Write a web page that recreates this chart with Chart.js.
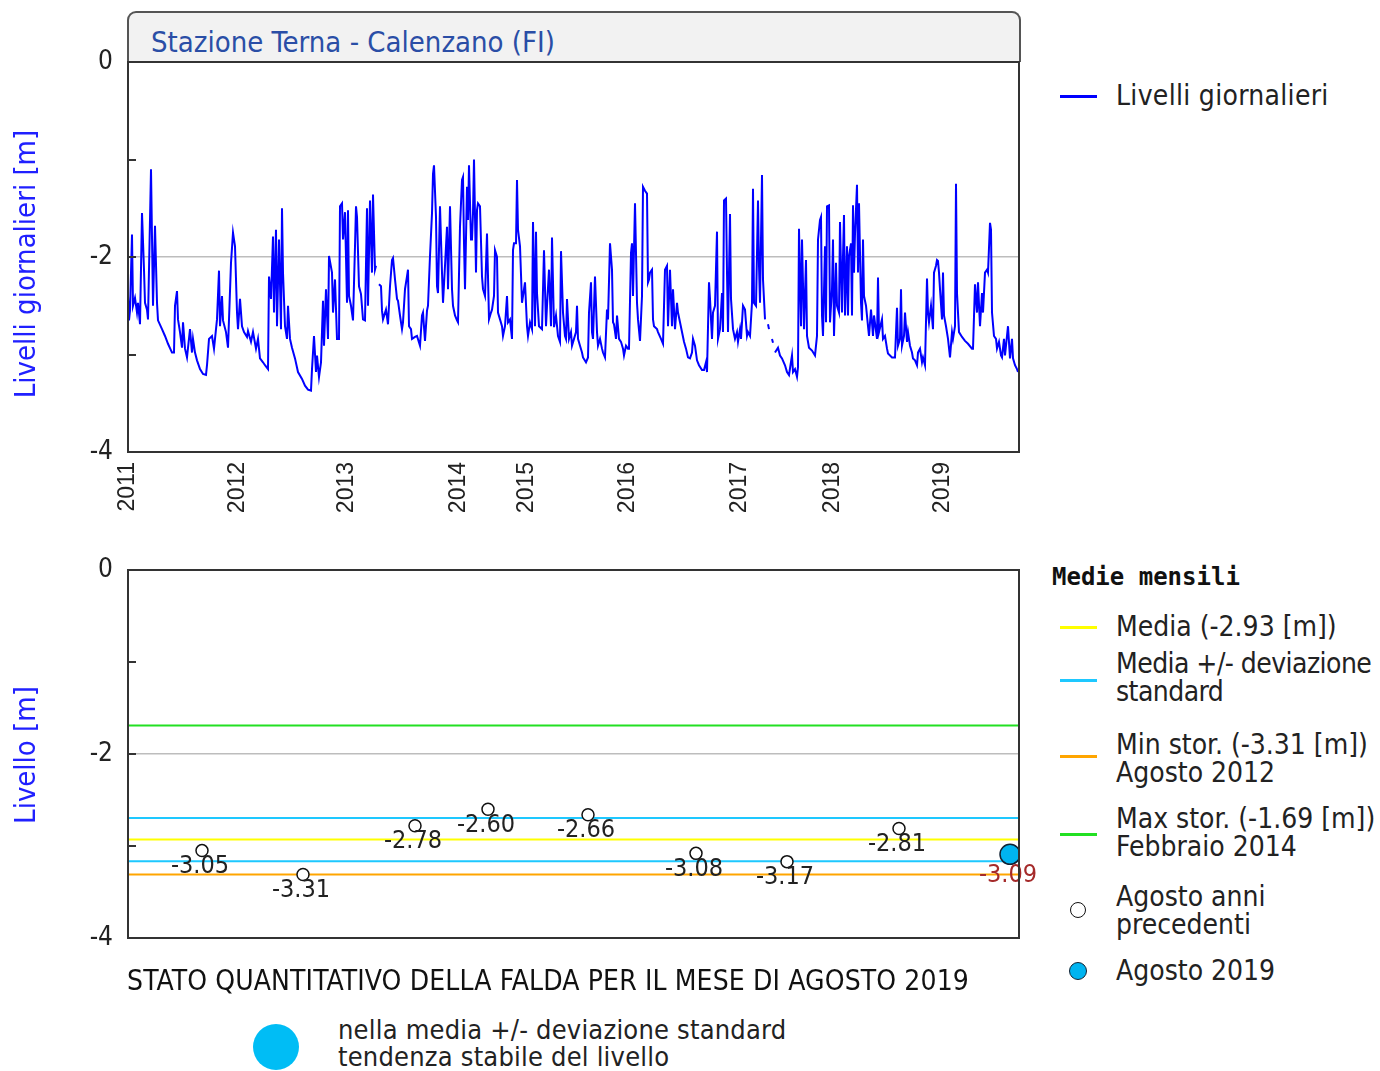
<!DOCTYPE html>
<html><head><meta charset="utf-8">
<script src="https://cdn.jsdelivr.net/npm/chart.js@4.4.0/dist/chart.umd.min.js"></script>
<style>
body{margin:0;background:#fff;}
#page{position:relative;width:1380px;height:1071px;overflow:hidden;font-family:'DejaVu Sans Condensed','DejaVu Sans',sans-serif;color:#222}
.t{position:absolute;white-space:nowrap}
.ytitle{position:absolute;transform:translate(-50%,-50%) rotate(-90deg);color:#2020ff;font-size:29px;line-height:32px;white-space:nowrap}
.leg{position:absolute;left:1116px;font-size:28px;line-height:28px;color:#222;white-space:nowrap}
.sw{position:absolute;left:1060px;width:37px;height:3px}
#titlebox{position:absolute;left:127px;top:11px;width:890px;height:49px;background:#f2f2f2;border:2px solid #555;border-bottom:none;border-radius:9px 9px 0 0}
#titlebox span{position:absolute;left:22px;top:14px;font-size:29px;line-height:30px;color:#2a4ea6}
</style></head>
<body><div id="page">
<div id="titlebox"><span>Stazione Terna - Calenzano (FI)</span></div>
<div style="position:absolute;left:0;top:0;width:1040px;height:530px"><canvas id="c1" width="1040" height="530"></canvas></div>
<div style="position:absolute;left:0;top:530px;width:1040px;height:450px"><canvas id="c2" width="1040" height="450"></canvas></div>
<div class="ytitle" style="left:25px;top:264px">Livelli giornalieri [m]</div>
<div class="ytitle" style="left:25px;top:755px">Livello [m]</div>

<div class="sw" style="top:95px;background:#0000ff"></div>
<div class="leg" style="top:82px;letter-spacing:0.3px">Livelli giornalieri</div>

<div class="t" style="left:1052px;top:563px;font-family:'DejaVu Sans Mono',monospace;font-weight:bold;font-size:24px;line-height:28px;color:#111">Medie mensili</div>
<div class="sw" style="top:626px;background:#ffff00"></div>
<div class="leg" style="top:613px">Media (-2.93 [m])</div>
<div class="sw" style="top:679px;background:#1ec8ff"></div>
<div class="leg" style="top:650px;letter-spacing:-0.55px">Media +/- deviazione<br>standard</div>
<div class="sw" style="top:755px;background:#ffa500"></div>
<div class="leg" style="top:731px">Min stor. (-3.31 [m])<br>Agosto 2012</div>
<div class="sw" style="top:833px;background:#22e022"></div>
<div class="leg" style="top:805px">Max stor. (-1.69 [m])<br>Febbraio 2014</div>
<div class="t" style="left:1070px;top:902px;width:14px;height:14px;border:1.5px solid #111;border-radius:50%;background:#fff"></div>
<div class="leg" style="top:883px">Agosto anni<br>precedenti</div>
<div class="t" style="left:1069px;top:962px;width:16px;height:16px;border:1.5px solid #123;border-radius:50%;background:#00b4f0"></div>
<div class="leg" style="top:957px">Agosto 2019</div>

<div class="t" style="left:127px;top:967px;font-size:28px;line-height:28px;color:#111;letter-spacing:0.13px">STATO QUANTITATIVO DELLA FALDA PER IL MESE DI AGOSTO 2019</div>
<div class="t" style="left:253px;top:1024px;width:46px;height:46px;border-radius:50%;background:#00bdf5"></div>
<div class="t" style="left:338px;top:1016px;font-size:27px;line-height:27px;color:#222;letter-spacing:0.2px">nella media +/- deviazione standard<br>tendenza stabile del livello</div>
</div>
<script>
// ---- top chart: daily groundwater levels, [sample index, level m] ----
const yearLabels = ['2011','2012','2013','2014','2015','2016','2017','2018','2019'];
const yearStartIndex = [0,110,219,331,399,500,612,705,815];
const lastIndex = 891;
const levels2011 = [[0,-2.40],[1,-2.65],[2,-2.55],[4,-1.77],[5,-2.50],[7,-2.42],[9,-2.57],[10,-2.47],[12,-2.69],[14,-1.55],[16,-2.13],[17,-2.47],[19,-2.54],[20,-2.64],[23,-1.10],[25,-2.50],[27,-1.68],[29,-2.47],[30,-2.65],[34,-2.74],[37,-2.81],[40,-2.89],[44,-2.98],[46,-2.98],[47,-2.50],[49,-2.35],[50,-2.64],[52,-2.77],[54,-2.93],[55,-2.67],[57,-2.94],[59,-3.03],[62,-2.74],[64,-2.98],[65,-2.84],[67,-2.98],[69,-3.06],[72,-3.15],[75,-3.20],[78,-3.21],[79,-3.11],[81,-2.84],[84,-2.81],[86,-2.94],[89,-2.64],[91,-2.14],[92,-2.71],[94,-2.40],[95,-2.65],[98,-2.77],[100,-2.93],[103,-2.06],[105,-1.75],[107,-1.89],[109,-2.57]];
const levels2012 = [[110,-2.74],[112,-2.43],[114,-2.71],[116,-2.77],[119,-2.82],[120,-2.76],[123,-2.87],[125,-2.77],[128,-2.94],[130,-2.84],[132,-3.04],[135,-3.08],[137,-3.11],[140,-3.15],[141,-2.20],[143,-2.43],[145,-1.79],[146,-2.57],[148,-1.72],[149,-2.71],[151,-1.82],[153,-2.74],[154,-1.50],[155,-2.16],[157,-2.71],[159,-2.84],[160,-2.50],[162,-2.84],[164,-2.93],[167,-3.04],[170,-3.18],[174,-3.25],[177,-3.32],[180,-3.36],[183,-3.37],[184,-3.15],[186,-2.81],[188,-3.18],[189,-3.01],[191,-3.23],[193,-3.08],[195,-2.45],[196,-2.91],[198,-2.33],[200,-2.84],[201,-1.99],[204,-2.16],[205,-2.57],[207,-2.23],[209,-2.84],[211,-2.84],[212,-1.48],[214,-1.45],[215,-1.82],[217,-1.54]];
const levels2013 = [[219,-2.47],[220,-1.52],[221,-2.40],[223,-2.50],[225,-2.65],[227,-1.89],[228,-1.48],[229,-1.59],[231,-2.30],[233,-2.38],[235,-2.64],[237,-2.65],[239,-1.50],[240,-2.50],[242,-1.42],[244,-2.16],[245,-1.36],[247,-2.13],[248,-2.09],[249,null],[251,-2.28],[253,-2.30],[254,-2.55],[255,-2.64],[258,-2.54],[260,-2.69],[262,-2.30],[264,-2.03],[265,-2.01],[267,-2.23],[269,-2.43],[270,-2.45],[272,-2.60],[274,-2.74],[275,-2.67],[277,-2.33],[279,-2.20],[280,-2.13],[281,-2.71],[283,-2.74],[284,-2.84],[287,-2.82],[289,-2.81],[292,-2.91],[294,-2.60],[295,-2.57],[297,-2.86],[299,-2.55],[300,-2.50],[302,-1.99],[304,-1.55],[305,-1.15],[306,-1.06],[308,-1.59],[309,-2.30],[310,-2.37],[312,-1.48],[314,-2.16],[315,-2.47],[317,-2.09],[319,-1.69],[320,-2.33],[322,-1.48],[324,-2.33],[325,-2.50],[327,-2.60],[329,-2.65],[330,-2.67]];
const levels2014 = [[332,-1.69],[334,-1.21],[335,-1.18],[336,-1.86],[337,-2.33],[339,-1.28],[340,-1.62],[341,-1.06],[343,-1.82],[344,-1.82],[345,-1.55],[346,-1.00],[348,-2.16],[349,-1.52],[350,-1.45],[352,-1.48],[354,-2.20],[355,-2.33],[357,-2.40],[359,-1.76],[360,-2.20],[361,-2.64],[363,-2.57],[364,-2.54],[366,-2.40],[367,-1.93],[369,-2.00],[370,-2.57],[372,-2.64],[374,-2.71],[375,-2.81],[377,-2.71],[379,-2.40],[380,-2.67],[382,-2.64],[384,-2.84],[385,-1.93],[386,-1.86],[388,-1.86],[389,-1.21],[390,-1.72],[392,-1.89],[394,-2.47],[395,-2.40],[397,-2.26]];
const levels2015 = [[399,-2.71],[400,-2.81],[402,-2.67],[404,-2.74],[405,-1.64],[407,-2.71],[408,-1.74],[409,-2.37],[411,-2.71],[414,-2.74],[416,-1.93],[418,-2.71],[419,-2.50],[421,-2.13],[423,-2.71],[424,-1.80],[426,-2.72],[428,-2.60],[430,-2.81],[432,-2.87],[433,-1.94],[435,-2.57],[437,-2.81],[438,-2.84],[439,-2.43],[441,-2.84],[443,-2.77],[444,-2.91],[446,-2.84],[448,-2.77],[449,-2.50],[450,-2.84],[452,-2.91],[454,-2.98],[455,-3.03],[458,-3.08],[460,-3.03],[461,-2.57],[463,-2.26],[464,-2.77],[465,-2.84],[467,-2.20],[469,-2.77],[470,-2.91],[472,-2.84],[474,-2.94],[475,-2.98],[477,-3.03],[479,-2.54],[480,-2.64],[482,-1.86],[484,-2.13],[485,-2.67],[486,-2.69],[488,-2.84],[489,-2.60],[491,-2.84],[493,-2.87],[495,-2.94],[496,-3.01],[498,-2.91]];
const levels2016 = [[500,-2.94],[501,-2.94],[503,-1.96],[504,-1.86],[505,-2.40],[507,-1.45],[509,-2.47],[510,-2.64],[512,-2.86],[514,-2.40],[515,-1.28],[517,-1.32],[519,-1.35],[520,-2.26],[521,-2.23],[522,-2.16],[524,-2.13],[525,-2.64],[526,-2.71],[529,-2.74],[530,-2.77],[533,-2.84],[535,-2.89],[537,-2.13],[539,-2.09],[540,-2.71],[542,-2.13],[544,-2.71],[545,-2.33],[547,-2.74],[549,-2.47],[550,-2.57],[552,-2.67],[554,-2.77],[556,-2.87],[558,-2.94],[560,-3.03],[562,-3.04],[564,-2.98],[565,-2.84],[567,-2.91],[569,-3.06],[571,-3.11],[574,-3.16],[576,-3.16],[578,-3.08],[579,-3.18],[581,-2.26],[582,-2.43],[584,-2.84],[585,-2.57],[587,-2.50],[589,-1.74],[590,-2.84],[592,-2.74],[594,-2.37],[595,-2.77],[596,-1.42],[598,-1.40],[599,-2.16],[600,-2.77],[602,-1.56],[603,-2.43],[605,-2.74],[607,-2.84],[609,-2.77],[610,-2.87]];
const levels2017 = [[612,-2.74],[613,-2.84],[615,-2.50],[617,-2.54],[619,-2.81],[620,-2.77],[622,-2.81],[624,-2.47],[625,-1.30],[626,-2.47],[628,-2.50],[630,-1.42],[631,-2.09],[632,-2.47],[634,-1.16],[635,-2.23],[637,-2.64],[638,null],[640,-2.69],[641,-2.74],[642,null],[644,-2.84],[645,-2.88],[646,null],[647,-2.98],[650,-2.93],[652,-3.01],[654,-3.04],[657,-3.11],[659,-3.18],[661,-3.21],[664,-3.01],[665,-3.18],[667,-3.15],[669,-3.23],[670,-3.13],[671,-1.71],[673,-2.71],[674,-1.82],[676,-2.74],[678,-2.03],[679,-2.81],[681,-2.93],[684,-2.96],[687,-3.01],[689,-2.81],[690,-1.82],[692,-1.62],[693,-1.59],[694,-2.60],[695,-2.81],[697,-1.89],[698,-2.67],[699,-1.48],[701,-1.47],[702,-2.67],[704,-2.33]];
const levels2018 = [[705,-1.82],[706,-2.81],[708,-2.06],[709,-2.50],[711,-2.57],[712,-1.64],[714,-2.57],[715,-1.99],[716,-1.57],[717,-2.60],[719,-1.89],[720,-2.60],[721,-1.99],[723,-1.86],[724,-2.60],[725,-1.47],[726,-2.16],[727,-1.76],[729,-1.26],[730,-2.16],[731,-1.45],[733,-2.47],[734,-2.65],[735,-1.82],[736,-2.40],[738,-2.50],[740,-2.71],[741,-2.81],[743,-2.54],[745,-2.81],[746,-2.60],[749,-2.84],[750,-2.21],[751,-2.77],[754,-2.64],[755,-2.84],[757,-2.81],[759,-2.94],[760,-2.99],[764,-3.03],[767,-3.03],[769,-2.52],[770,-2.91],[772,-2.84],[773,-2.33],[774,-2.91],[776,-2.81],[777,-2.57],[779,-2.87],[780,-2.77],[782,-2.91],[784,-2.98],[785,-3.04],[787,-3.06],[789,-3.11],[790,-2.98],[792,-2.94],[794,-3.08],[795,-3.03],[797,-3.11],[799,-2.22],[800,-2.57],[801,-2.67],[803,-2.50],[805,-2.74],[806,-2.16],[808,-2.09],[809,-2.03],[810,-2.04],[811,-2.16],[812,-2.33],[814,-2.64]];
const levels2019 = [[815,-2.16],[816,-2.60],[818,-2.71],[820,-2.84],[822,-3.03],[824,-2.77],[825,-2.84],[827,-2.71],[828,-1.25],[829,-2.37],[831,-2.77],[834,-2.82],[837,-2.86],[840,-2.89],[844,-2.94],[845,-2.94],[847,-2.28],[849,-2.57],[850,-2.26],[852,-2.71],[854,-2.37],[855,-2.57],[857,-2.16],[859,-2.13],[860,-2.16],[862,-1.65],[863,-1.72],[864,-2.57],[866,-2.81],[868,-2.84],[869,-2.94],[871,-2.87],[873,-3.01],[874,-3.03],[876,-2.84],[877,-3.01],[879,-2.81],[880,-2.71],[882,-3.04],[884,-2.84],[885,-3.04],[887,-3.11],[889,-3.15],[890,-3.18]];

// ---- bottom chart: August monthly means ----
const augustYears = ['2011','2012','2013','2014','2015','2016','2017','2018','2019'];
const augustIndex = [74,175,287,360,460,568,659,771,882];
const augustLevels = [-3.05,-3.31,-2.78,-2.60,-2.66,-3.08,-3.17,-2.81,-3.09];
const statMean = -2.93;
const statStd = 0.235;
const statMin = -3.31;
const statMax = -1.69;

const yTickValues = [0,-1,-2,-3,-4];
const yLabelValues = [0,-2,-4];
const innerTickValues = [-1,-2,-3];

const dailySeries = [].concat(levels2011,levels2012,levels2013,levels2014,levels2015,levels2016,levels2017,levels2018,levels2019)
  .map(p => ({x:p[0], y:p[1]}));

const TICK_FONT = {family:"'DejaVu Sans Condensed','DejaVu Sans',sans-serif", size:26};

const frame = {
  id:'frame',
  afterDraw(chart){
    const {ctx, chartArea:a, scales:{y}} = chart;
    ctx.save();
    ctx.strokeStyle = '#333'; ctx.lineWidth = 2;
    innerTickValues.forEach(v => {
      const py = Math.round(y.getPixelForValue(v));
      ctx.beginPath(); ctx.moveTo(a.left, py); ctx.lineTo(a.left + 8, py); ctx.stroke();
    });
    ctx.strokeRect(a.left, a.top, a.right - a.left, a.bottom - a.top);
    ctx.restore();
  }
};

function yScale(){
  return {
    min:-4, max:0,
    afterBuildTicks(s){ s.ticks = yTickValues.map(v => ({value:v})); },
    afterFit(s){ s.width = 128; },
    ticks:{ autoSkip:false, padding:15, color:'#222', font:TICK_FONT,
      callback:(v) => yLabelValues.includes(v) ? String(v) : '' },
    grid:{ drawTicks:false, color:(c) => c.tick && c.tick.value === -2 ? '#bdbdbd' : 'rgba(0,0,0,0)', lineWidth:1.5 },
    border:{ display:false }
  };
}

new Chart(document.getElementById('c1'), {
  type:'line',
  data:{ datasets:[{
    label:'Livelli giornalieri', data:dailySeries, borderColor:'#0000ff', borderWidth:2,
    pointRadius:0, tension:0, spanGaps:false, fill:false
  }]},
  options:{
    responsive:false, animation:false,
    layout:{ padding:{ top:62, right:21, left:0, bottom:0 } },
    plugins:{ legend:{display:false}, tooltip:{enabled:false} },
    scales:{
      x:{ type:'linear', min:0, max:lastIndex,
        afterBuildTicks(s){ s.ticks = yearStartIndex.map(v => ({value:v})); },
        afterFit(s){ s.height = 78; },
        ticks:{ autoSkip:false, minRotation:90, maxRotation:90, padding:10, color:'#222',
          font:{family:"'Liberation Sans',Arial,sans-serif", size:23},
          callback:(v) => { const k = yearStartIndex.indexOf(v); return k >= 0 ? yearLabels[k] : ''; } },
        grid:{ display:false, drawTicks:false }, border:{display:false}
      },
      y: yScale()
    }
  },
  plugins:[frame]
});

const hLine = (v, color) => ({
  type:'line', data:[{x:0,y:v},{x:lastIndex,y:v}], borderColor:color, borderWidth:2,
  pointRadius:0, fill:false, order:2
});

const pointLabels = {
  id:'pointLabels',
  afterDatasetsDraw(chart){
    const {ctx} = chart;
    ctx.save();
    ctx.font = "25px 'DejaVu Sans Condensed','DejaVu Sans',sans-serif";
    ctx.textAlign = 'center'; ctx.textBaseline = 'middle';
    const meta = chart.getDatasetMeta(5);
    meta.data.forEach((el, i) => {
      const last = i === augustLevels.length - 1;
      ctx.fillStyle = last ? '#a52a2a' : '#222';
      ctx.fillText(augustLevels[i].toFixed(2), el.x - 2, el.y + (last ? 21 : 16));
    });
    ctx.restore();
  }
};

const nPrev = augustLevels.length - 1;
new Chart(document.getElementById('c2'), {
  type:'line',
  data:{ datasets:[
    hLine(statMax, '#22e022'),
    hLine(statMean + statStd, '#1ec8ff'),
    hLine(statMean, '#ffff00'),
    hLine(statMean - statStd, '#1ec8ff'),
    hLine(statMin, '#ffa500'),
    { type:'scatter', data:augustIndex.map((x,i) => ({x, y:augustLevels[i]})), order:1,
      pointRadius:augustLevels.map((v,i) => i === nPrev ? 10 : 6),
      pointBackgroundColor:augustLevels.map((v,i) => i === nPrev ? '#00b4f0' : '#ffffff'),
      pointBorderColor:augustLevels.map((v,i) => i === nPrev ? '#123' : '#111'),
      pointBorderWidth:1.5, showLine:false }
  ]},
  options:{
    responsive:false, animation:false,
    layout:{ padding:{ top:40, right:21, left:0, bottom:0 } },
    plugins:{ legend:{display:false}, tooltip:{enabled:false} },
    scales:{
      x:{ type:'linear', min:0, max:lastIndex,
        afterFit(s){ s.height = 42; },
        ticks:{ display:false }, grid:{ display:false, drawTicks:false }, border:{ display:false } },
      y: yScale()
    }
  },
  plugins:[frame, pointLabels]
});
</script>
</body></html>
